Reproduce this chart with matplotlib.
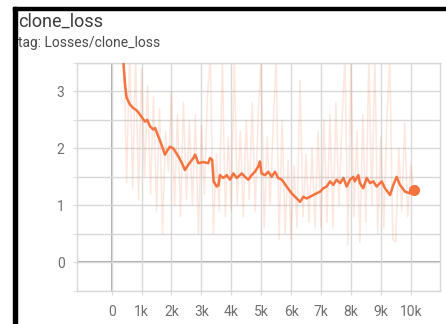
import numpy as np
import matplotlib.pyplot as plt
from matplotlib.patches import Rectangle
from matplotlib.ticker import FuncFormatter, MultipleLocator

plt.rcParams['font.family'] = ['Roboto', 'DejaVu Sans']

# raw scalar values, one every 100 steps
raw_steps = np.arange(100, 10200, 100)
raw_loss = [
    8.0, 6.5, 5.0, 3.8, 1.4, 3.7, 1.3, 3.6, 1.1, 3.4,
    1.5, 3.1, 1.2, 2.9, 0.9, 2.7, 0.5, 2.3, 1.6, 3.0,
    1.0, 2.6, 0.8, 2.8, 1.1, 2.5, 1.0, 2.6, 0.5, 2.4,
    1.2, 2.9, 3.6, 0.5, 1.9, 0.9, 3.6, 0.8, 2.2, 0.9,
    3.6, 1.0, 2.3, 0.8, 2.5, 1.1, 2.8, 0.9, 2.6, 3.6,
    0.6, 2.2, 1.0, 2.4, 3.6, 0.4, 2.5, 0.5, 1.8, 0.4,
    1.7, 0.6, 3.2, 0.8, 1.9, 0.7, 2.0, 0.6, 2.3, 0.6,
    2.5, 0.7, 2.6, 0.6, 2.8, 1.0, 2.4, 3.6, 0.3, 3.6,
    0.8, 2.3, 0.35, 2.6, 0.7, 3.6, 1.0, 3.6, 0.5, 2.2,
    0.6, 2.5, 3.6, 0.4, 0.35, 2.0, 0.9, 2.45, 0.8, 1.7,
    1.3,
]

# smoothed curve (steps in thousands)
smooth_k = [
    0.1, 0.2, 0.3, 0.4, 0.45, 0.5, 0.61, 0.72, 0.85, 0.95,
    1.11, 1.19, 1.28, 1.39, 1.45, 1.56, 1.67, 1.78, 1.87, 1.95,
    2.06, 2.23, 2.35, 2.45, 2.56, 2.73, 2.79, 2.9, 3.06, 3.23,
    3.29, 3.36, 3.41, 3.51, 3.57, 3.62, 3.73, 3.85, 3.96, 4.07,
    4.18, 4.35, 4.46, 4.57, 4.68, 4.79, 4.9, 4.96, 5.01, 5.13,
    5.24, 5.35, 5.46, 5.57, 5.69, 5.85, 6.02, 6.19, 6.3, 6.41,
    6.52, 6.63, 6.74, 6.85, 6.97, 7.08, 7.19, 7.3, 7.41, 7.52,
    7.64, 7.75, 7.86, 7.97, 8.08, 8.13, 8.25, 8.3, 8.41, 8.53,
    8.64, 8.75, 8.86, 9.03, 9.14, 9.31, 9.42, 9.53, 9.64, 9.81,
    9.98, 10.1,
]
smooth_loss = [
    8.0, 5.6, 4.3, 3.45, 3.1, 2.89, 2.77, 2.71, 2.66, 2.59,
    2.47, 2.50, 2.39, 2.33, 2.36, 2.21, 2.06, 1.89, 1.97, 2.03,
    2.00, 1.86, 1.74, 1.62, 1.71, 1.83, 1.89, 1.74, 1.76, 1.74,
    1.83, 1.80, 1.42, 1.33, 1.35, 1.53, 1.48, 1.53, 1.45, 1.56,
    1.48, 1.56, 1.50, 1.45, 1.53, 1.59, 1.68, 1.77, 1.56, 1.53,
    1.59, 1.50, 1.59, 1.48, 1.45, 1.33, 1.21, 1.12, 1.06, 1.15,
    1.12, 1.15, 1.18, 1.21, 1.24, 1.30, 1.33, 1.42, 1.36, 1.45,
    1.39, 1.48, 1.33, 1.45, 1.50, 1.42, 1.53, 1.39, 1.30, 1.48,
    1.39, 1.42, 1.33, 1.42, 1.30, 1.18, 1.36, 1.50, 1.36, 1.24,
    1.21, 1.27,
]
smooth_steps = np.array(smooth_k) * 1000

x_ticks = np.arange(0, 11000, 1000)

W, H = 446, 324
fig = plt.figure(figsize=(W / 100, H / 100), dpi=100)
fig.patch.set_facecolor('white')

# card frame (left and top black bars)
fig.patches.append(Rectangle((13 / W, 0), 4 / W, 1 - 7 / H, transform=fig.transFigure,
                             color='black', zorder=0))
fig.patches.append(Rectangle((13 / W, 1 - 10 / H), 1 - 13 / W, 3 / H, transform=fig.transFigure,
                             color='black', zorder=0))

fig.text(18.5 / W, 1 - 27 / H, 'clone_loss', fontsize=13, color='#3c3c3c', va='baseline')
fig.text(17.5 / W, 1 - 47 / H, 'tag: Losses/clone_loss', fontsize=10, color='#4a4a4a', va='baseline')

ax = fig.add_axes([77 / W, 1 - 290.7 / H, (440 - 77) / W, (290.7 - 63) / H])

orange = '#f4733e'
ax.plot(raw_steps, raw_loss, color=orange, alpha=0.17, lw=1.1, zorder=2)
ax.plot(smooth_steps, smooth_loss, color=orange, lw=1.8, zorder=3)
ax.plot(smooth_steps[-1], smooth_loss[-1], 'o', color=orange, ms=7, zorder=4)

ax.set_xlim(-1160, 10980)
ax.set_ylim(-0.5, 3.5)

ax.set_xticks(x_ticks)
ax.xaxis.set_major_formatter(FuncFormatter(lambda v, p: '0' if v == 0 else f'{int(v / 1000)}k'))
ax.set_yticks([0, 1, 2, 3])
ax.yaxis.set_minor_locator(MultipleLocator(0.5))

ax.grid(True, which='both', color='#d8d8d8', lw=1.0, zorder=1)
ax.axvline(0, color='#a0a0a0', lw=1.3, zorder=1.5)
ax.axhline(0, color='#a0a0a0', lw=1.3, zorder=1.5)

for s in ax.spines.values():
    s.set_color('#d8d8d8')
    s.set_linewidth(1.0)

ax.tick_params(axis='both', which='both', length=3, color='#d8d8d8', labelsize=10,
               labelcolor='#707070')
ax.tick_params(axis='x', pad=7)
ax.tick_params(axis='y', pad=6)

fig.savefig('out.png', dpi=100)
